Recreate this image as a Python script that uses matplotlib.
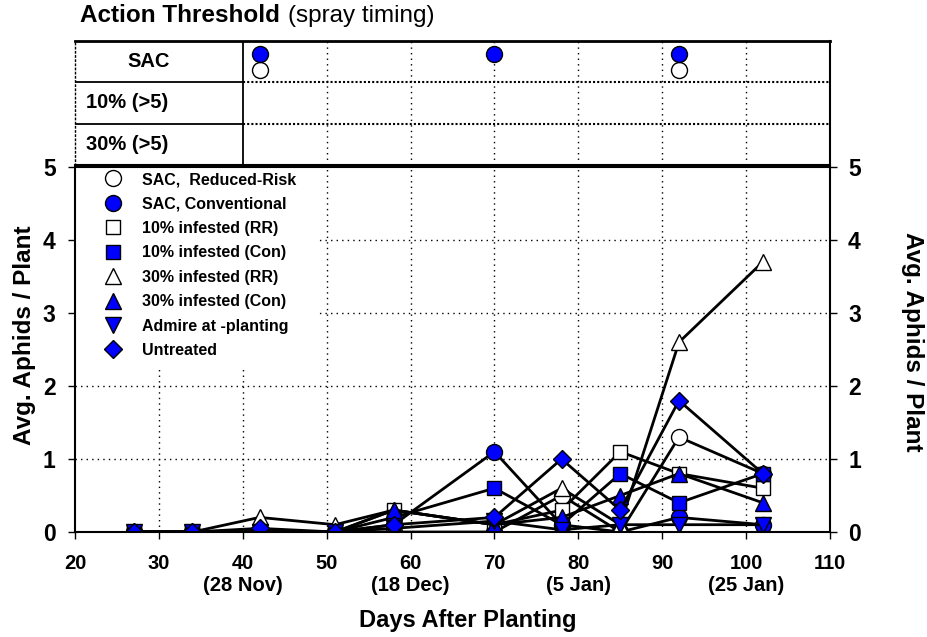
import matplotlib
matplotlib.use("Agg")
import matplotlib.pyplot as plt
from matplotlib.lines import Line2D
from matplotlib.patches import Rectangle

plt.rcParams['font.family'] = ['Liberation Sans', 'DejaVu Sans']

days = [27, 34, 42, 51, 58, 70, 78, 85, 92, 102]
sac_rr = [0, 0, 0, 0, 0, 0, 0.5, 0, 1.3, 0.8]
sac_con = [0, 0, 0, 0, 0.1, 1.1, 0.1, 0, 0.2, 0.1]
inf10_rr = [0, 0, 0, 0, 0.3, 0.1, 0.3, 1.1, 0.8, 0.6]
inf10_con = [0, 0, 0, 0, 0.2, 0.6, 0.1, 0.8, 0.4, 0.8]
inf30_rr = [0, 0, 0.2, 0.1, 0.3, 0.1, 0.6, 0.1, 2.6, 3.7]
inf30_con = [0, 0, 0, 0, 0.3, 0.1, 0.2, 0.5, 0.8, 0.4]
admire = [0, 0, 0, 0, 0.05, 0.15, 0.03, 0.1, 0.1, 0.1]
untreated = [0, 0, 0.05, 0, 0.1, 0.2, 1.0, 0.3, 1.8, 0.8]

labels = ["SAC,  Reduced-Risk", "SAC, Conventional", "10% infested (RR)",
          "10% infested (Con)", "30% infested (RR)", "30% infested (Con)",
          "Admire at -planting", "Untreated"]
series = [sac_rr, sac_con, inf10_rr, inf10_con, inf30_rr, inf30_con, admire, untreated]
markers = ['o', 'o', 's', 's', '^', '^', 'v', 'D']
faces = ['white', '#0000FF', 'white', '#0000FF', 'white', '#0000FF', '#0000FF', '#0000FF']
msizes = [11.5, 11.5, 10.5, 10.5, 12, 12, 12, 8.8]

# spray timing (top panel)
spray_con_days = [42, 70, 92]
spray_rr_days = [42, 92]
row_labels = ["SAC", "10% (>5)", "30% (>5)"]

xticks = [20, 30, 40, 50, 60, 70, 80, 90, 100, 110]
xticklabels = ["20", "30", "40\n(28 Nov)", "50", "60\n(18 Dec)", "70", "80\n(5 Jan)",
               "90", "100\n(25 Jan)", "110"]
yticks = [0, 1, 2, 3, 4, 5]

W, H = 928, 637
fig = plt.figure(figsize=(W / 100, H / 100), dpi=100)

X0, X1 = 75, 830
Y0, Y1 = 532, 167
ax = fig.add_axes([X0 / W, 1 - Y0 / H, (X1 - X0) / W, (Y0 - Y1) / H])
axt = fig.add_axes([X0 / W, 1 - 165 / H, (X1 - X0) / W, (165 - 41) / H])

# main panel grid
for xs in xticks[1:-1]:
    ax.axvline(xs, color='black', lw=1, ls=(0, (1, 3)), zorder=0)
for ys in yticks[1:-1]:
    ax.axhline(ys, color='black', lw=1, ls=(0, (1, 3)), zorder=0)

for s, m, fc, ms in zip(series, markers, faces, msizes):
    ax.plot(days, s, color='black', lw=2, marker=m, markersize=ms,
            markerfacecolor=fc, markeredgecolor='black', markeredgewidth=1, zorder=3)

ax.set_xlim(20, 110)
ax.set_ylim(0, 5)
ax.set_xticks(xticks)
ax.set_xticklabels(xticklabels, fontsize=14.5, fontweight='bold')
ax.set_yticks(yticks)
ax.set_yticklabels([str(v) for v in yticks], fontsize=16.5, fontweight='bold')
ax.tick_params(axis='x', direction='out', length=5, width=1, pad=11)
ax.tick_params(axis='y', direction='out', length=5, width=1, pad=9)
for sp in ax.spines.values():
    sp.set_linewidth(1.5)
    sp.set_zorder(12)

ax2 = ax.twinx()
ax2.set_ylim(0, 5)
ax2.set_yticks(yticks)
ax2.set_yticklabels([str(v) for v in yticks], fontsize=16.5, fontweight='bold')
ax2.tick_params(axis='y', direction='out', length=5, width=1, pad=8)
for sp in ax2.spines.values():
    sp.set_visible(False)

# white legend background
ax.add_patch(Rectangle((0, 1), (317 - X0) / (X1 - X0), -(368 - Y1) / (Y0 - Y1),
                       transform=ax.transAxes, facecolor='white', edgecolor='none',
                       zorder=4))

handles = [Line2D([], [], ls='none', marker=m, markersize=ms, markerfacecolor=fc,
                  markeredgecolor='black', markeredgewidth=1)
           for m, fc, ms in zip(markers, faces, msizes)]
leg = ax.legend(handles, labels, loc='upper left',
                bbox_to_anchor=(22 / (X1 - X0), 1.0 - 5 / (Y0 - Y1)),
                borderaxespad=0, borderpad=0, frameon=False, labelspacing=0.59,
                handlelength=2.0, handletextpad=0.8,
                prop={'size': 11.5, 'weight': 'bold'})
leg.set_zorder(10)

# axis labels
fig.text(468 / W, 1 - 620 / H, "Days After Planting", fontsize=17, fontweight='bold',
         ha='center', va='center')
fig.text(25 / W, 1 - 335 / H, "Avg. Aphids / Plant", fontsize=17.5, fontweight='bold',
         ha='center', va='center', rotation=90)
fig.text(913 / W, 1 - 342 / H, "Avg. Aphids / Plant", fontsize=17.5, fontweight='bold',
         ha='center', va='center', rotation=270)

# top panel
axt.set_xlim(20, 110)
axt.set_ylim(0, 3)
axt.set_xticks([])
axt.set_yticks([])
for xs in [50, 60, 70, 80, 90, 100]:
    axt.axvline(xs, color='black', lw=1, ls=(0, (1, 3)), zorder=0)
for yv in [1, 2]:
    axt.plot([20, 40], [yv, yv], color='black', lw=1.3)
    axt.plot([40, 110], [yv, yv], color='black', lw=1.5, ls=(0, (1, 1)))
axt.axvline(40, color='black', lw=1.3)
for i, lab in enumerate(row_labels):
    yc = 2.5 - i
    if i == 0:
        axt.text(28.8, yc, lab, ha='center', va='center', fontsize=14.5, fontweight='bold')
    else:
        axt.text(21.3, yc, lab, ha='left', va='center', fontsize=14.5, fontweight='bold')
axt.plot(spray_rr_days, [2.3] * len(spray_rr_days), ls='none', marker='o', markersize=11.5,
         markerfacecolor='white', markeredgecolor='black', markeredgewidth=1, zorder=3)
axt.plot(spray_con_days, [2.68] * len(spray_con_days), ls='none', marker='o', markersize=11.5,
         markerfacecolor='#0000FF', markeredgecolor='black', markeredgewidth=1, zorder=4)
axt.spines['top'].set_linewidth(2)
axt.spines['bottom'].set_linewidth(1.5)
axt.spines['right'].set_linewidth(1.5)
axt.spines['left'].set_linewidth(1)
axt.spines['left'].set_linestyle((0, (1, 2)))

# title with mixed weights
t1 = fig.text(80 / W, 1 - 16 / H, "Action Threshold", fontsize=17.5, fontweight='bold',
              ha='left', va='center')
fig.canvas.draw()
bb = t1.get_window_extent(renderer=fig.canvas.get_renderer())
fig.text((bb.x1 + 8) / W, 1 - 16 / H, "(spray timing)", fontsize=17.5, ha='left',
         va='center')

fig.savefig("out.png", dpi=100)
